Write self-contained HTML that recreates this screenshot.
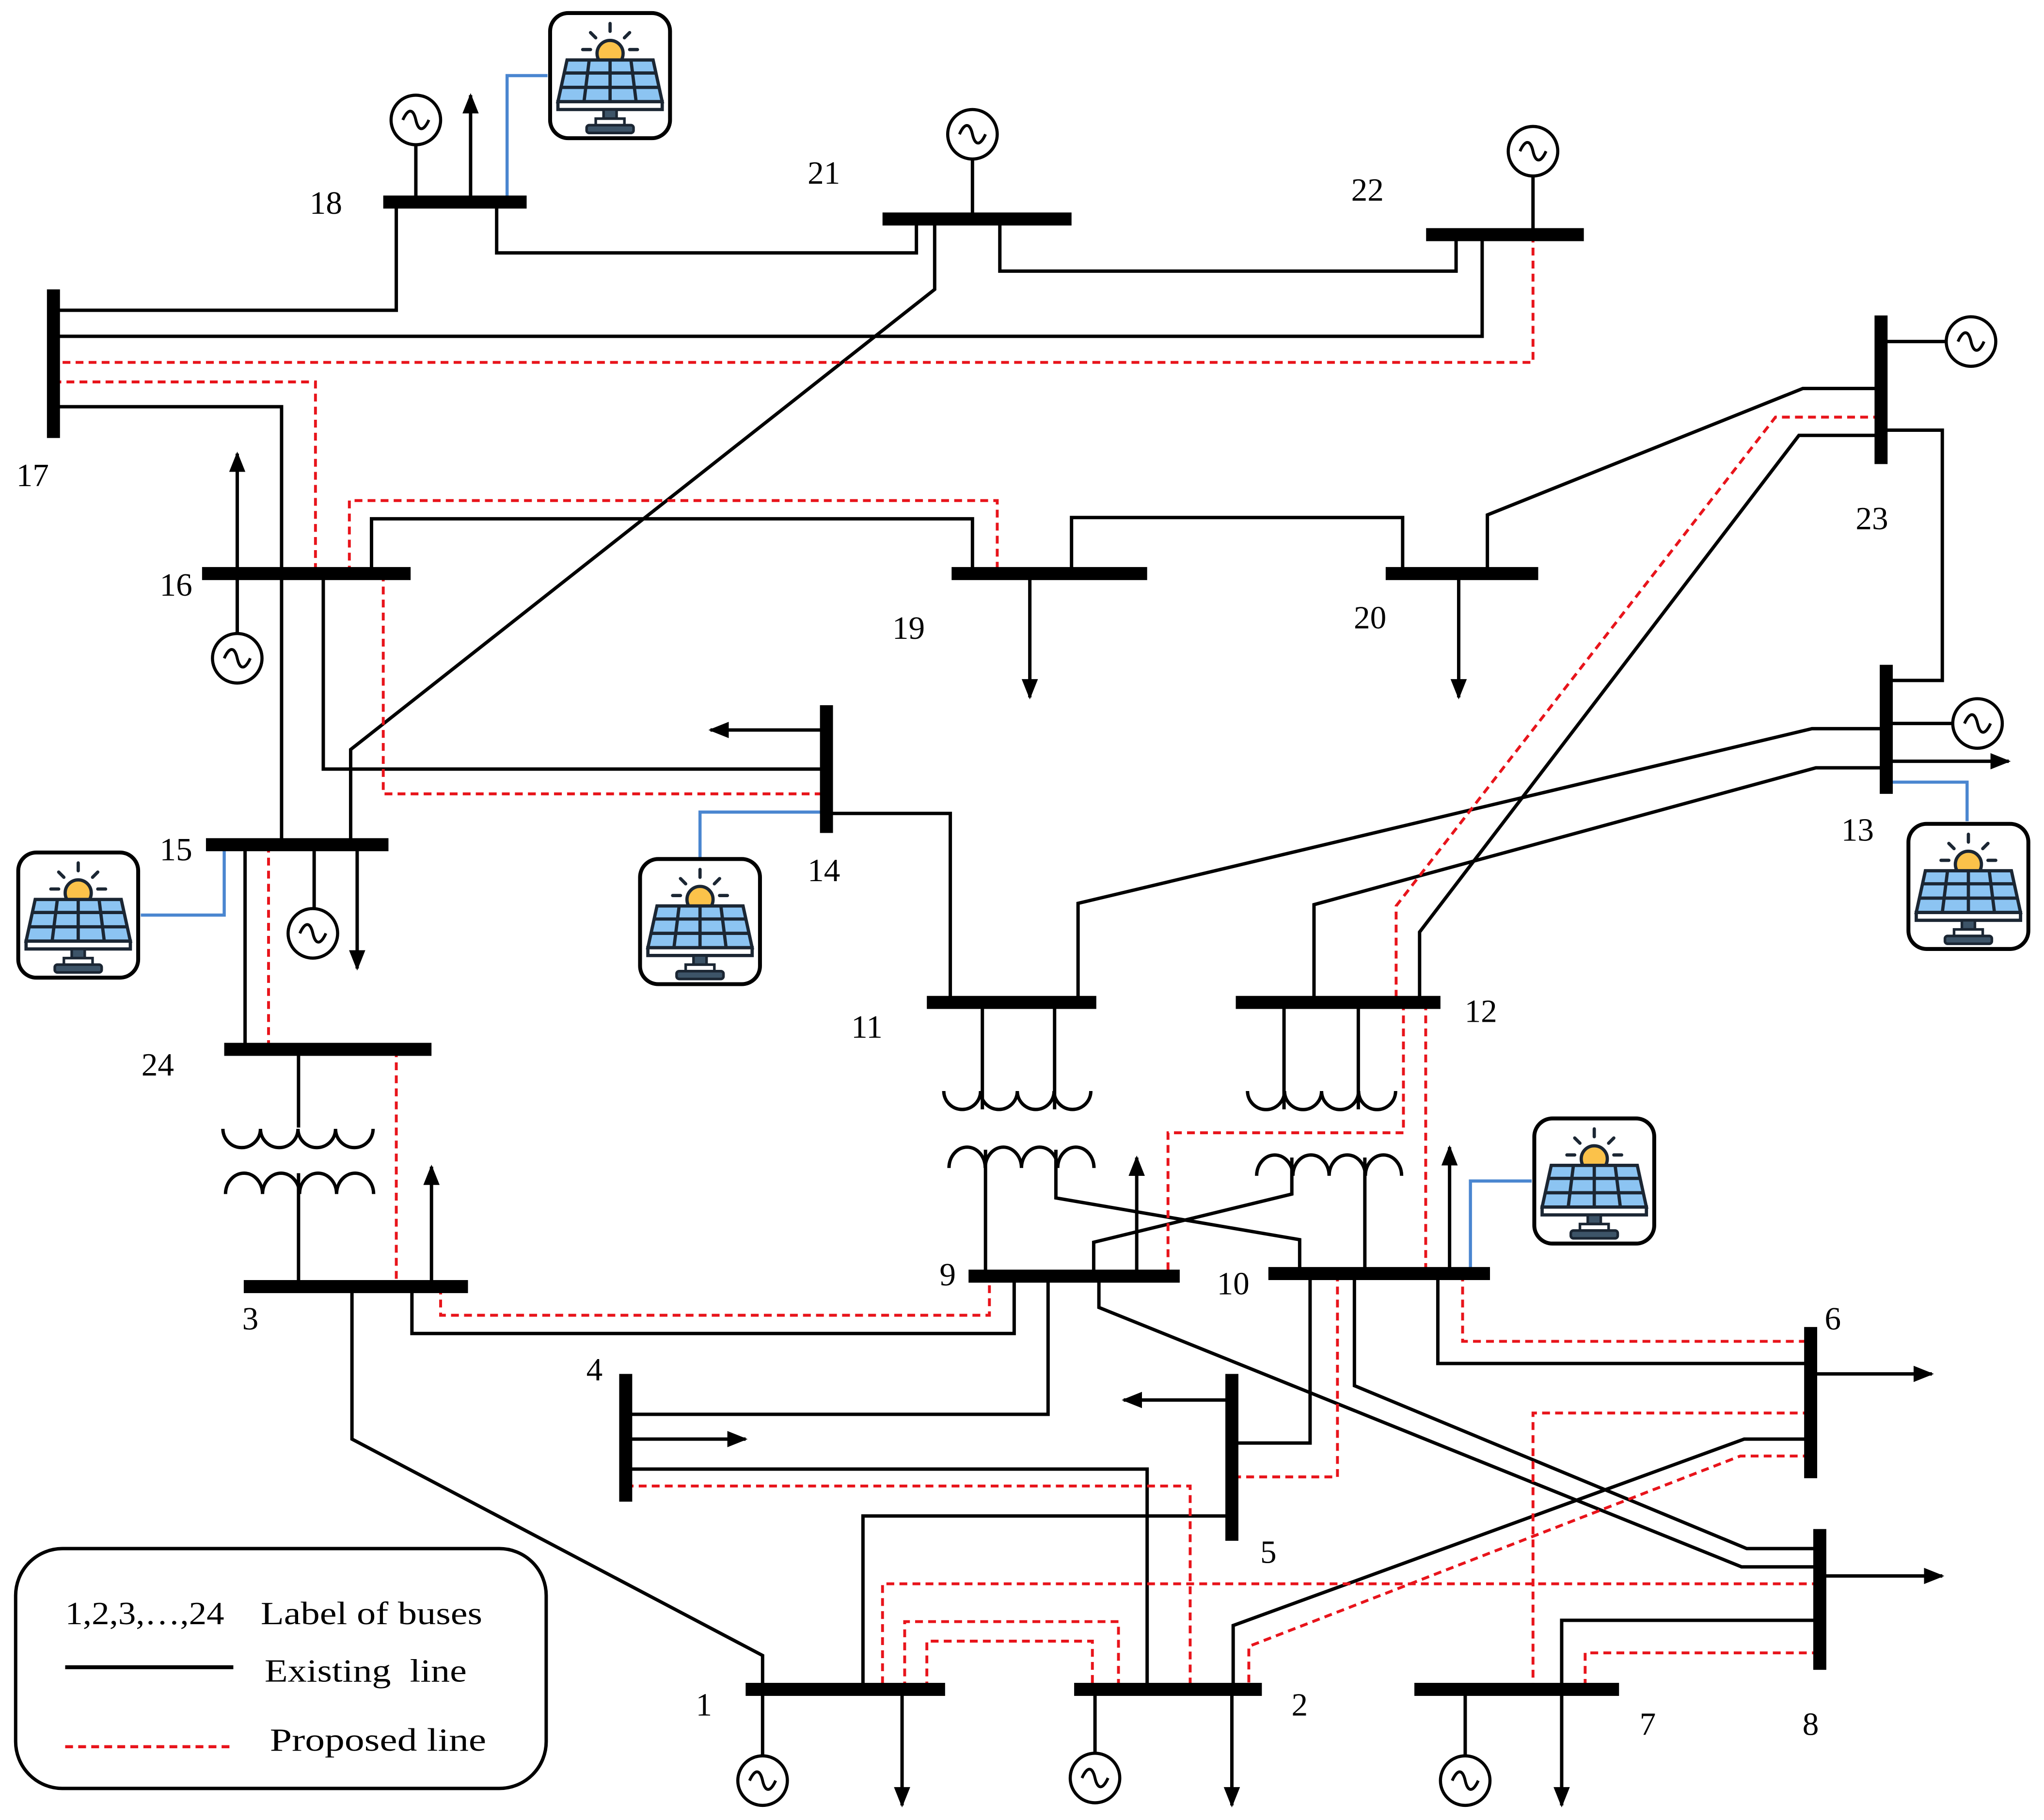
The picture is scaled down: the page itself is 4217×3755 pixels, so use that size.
<!DOCTYPE html>
<html><head><meta charset="utf-8"><style>html,body{margin:0;padding:0;background:#fff}svg{display:block}</style></head>
<body>
<svg xmlns="http://www.w3.org/2000/svg" xmlns:xlink="http://www.w3.org/1999/xlink" width="4217" height="3755" viewBox="0 0 1568 1396.2">
<defs>
<marker id="ar" viewBox="0 0 10 10" refX="9" refY="5" markerWidth="6" markerHeight="6" markerUnits="strokeWidth" orient="auto"><path d="M0,1 L10,5 L0,9 z" fill="#000"/></marker>
<g id="pv">
<rect x="2" y="2" width="92" height="96" rx="14" fill="#fff" stroke="#000" stroke-width="3"/>
<g stroke="#1b2633" stroke-width="2.5" stroke-linecap="round">
<line x1="48" y1="10" x2="48" y2="16"/><line x1="33" y1="17" x2="37" y2="21"/><line x1="63" y1="17" x2="59" y2="21"/><line x1="27" y1="30" x2="33" y2="30"/><line x1="63" y1="30" x2="69" y2="30"/>
</g>
<circle cx="48" cy="33" r="10" fill="#fbc24a" stroke="#1b2633" stroke-width="2.5"/>
<path d="M15,38 L81,38 L88,70 L8,70 Z" fill="#8cc4f2" stroke="#1b2633" stroke-width="2.5"/>
<path d="M8,70 L88,70 L88,76 L8,76 Z" fill="#fff" stroke="#1b2633" stroke-width="2.5"/>
<g stroke="#1b2633" stroke-width="2.5"><line x1="12" y1="48" x2="84" y2="48"/><line x1="10" y1="59" x2="86" y2="59"/><line x1="32" y1="38" x2="28" y2="70"/><line x1="48" y1="38" x2="48" y2="70"/><line x1="64" y1="38" x2="68" y2="70"/></g>
<rect x="43" y="76" width="10" height="7" fill="#3d5468" stroke="#1b2633" stroke-width="2"/>
<rect x="37" y="83" width="22" height="5" fill="#fff" stroke="#1b2633" stroke-width="2"/>
<rect x="30" y="88" width="36" height="6" rx="2" fill="#3d5468" stroke="#1b2633" stroke-width="2"/>
</g>
</defs>
<rect width="1568" height="1396.2" fill="#fff"/>

<g fill="none" stroke="#000" stroke-width="2.6" stroke-linejoin="miter">
<polyline points="304,155 304,238 41,238"/>
<polyline points="381,155 381,194 703,194 703,168"/>
<polyline points="767,168 767,208 1117,208 1117,180"/>
<polyline points="1137,180 1137,258 41,258"/>
<polyline points="41,312 216,312 216,648"/>
<polyline points="717,168 717,222 269,575 269,648"/>
<polyline points="285,440 285,398 746,398 746,440"/>
<polyline points="822,440 822,397 1076,397 1076,440"/>
<polyline points="1141,440 1141,395 1383,298 1443,298"/>
<polyline points="1443,334 1380,334 1089,715 1089,769"/>
<polyline points="1443,330 1490,330 1490,522 1447,522"/>
<polyline points="248,440 248,590 634,590"/>
<polyline points="634,624 729,624 729,769"/>
<polyline points="1447,559 1390,559 827,693 827,769"/>
<polyline points="1447,589 1393,589 1008,694 1008,769"/>
<polyline points="188,648 188,805"/>
<polyline points="241,648 241,697"/>
<polyline points="316,987 316,1023 778,1023 778,979"/>
<polyline points="270,987 270,1104 585,1270 585,1296"/>
<polyline points="804,979 804,1085 480,1085"/>
<polyline points="843,979 843,1003 1336,1202 1396,1202"/>
<polyline points="1005,977 1005,1107 945,1107"/>
<polyline points="1103,977 1103,1046 1389,1046"/>
<polyline points="1039,977 1039,1063 1340,1188 1396,1188"/>
<polyline points="945,1163 662,1163 662,1296"/>
<polyline points="480,1127 880,1127 880,1296"/>
<polyline points="1389,1104 1338,1104 946,1247 946,1296"/>
<polyline points="1396,1243 1198,1243 1198,1296"/>
<polyline points="229,805 229,865"/><polyline points="229,900 229,987"/>
<polyline points="753.6,769 753.6,851"/><polyline points="809,769 809,851"/>
<polyline points="756,882 756,979"/><polyline points="810,882 810,919 997,951 997,977"/>
<polyline points="985,769 985,851"/><polyline points="1042,769 1042,851"/>
<polyline points="991,888 991,916 839,953 839,979"/><polyline points="1047,888 1047,977"/>
<path d="M724,837 a14.1 14.1 0 0 0 28.2 0 a14.1 14.1 0 0 0 28.2 0 a14.1 14.1 0 0 0 28.2 0 a14.1 14.1 0 0 0 28.2 0"/>
<path d="M728,896 a13.9 16 0 0 1 27.8 0 a13.9 16 0 0 1 27.8 0 a13.9 16 0 0 1 27.8 0 a13.9 16 0 0 1 27.8 0"/>
<path d="M957,837 a14.2 14.2 0 0 0 28.4 0 a14.2 14.2 0 0 0 28.4 0 a14.2 14.2 0 0 0 28.4 0 a14.2 14.2 0 0 0 28.4 0"/>
<path d="M964,902 a13.9 16 0 0 1 27.8 0 a13.9 16 0 0 1 27.8 0 a13.9 16 0 0 1 27.8 0 a13.9 16 0 0 1 27.8 0"/>
<path d="M171,866 a14.4 14.4 0 0 0 28.8 0 a14.4 14.4 0 0 0 28.8 0 a14.4 14.4 0 0 0 28.8 0 a14.4 14.4 0 0 0 28.8 0"/>
<path d="M173,916 a14.2 16 0 0 1 28.4 0 a14.2 16 0 0 1 28.4 0 a14.2 16 0 0 1 28.4 0 a14.2 16 0 0 1 28.4 0"/>
<line x1="319" y1="155" x2="319" y2="111"/>
<line x1="746" y1="168" x2="746" y2="122"/>
<line x1="1176" y1="180" x2="1176" y2="135"/>
<line x1="1443" y1="262" x2="1493" y2="262"/>
<line x1="1447" y1="555" x2="1498" y2="555"/>
<line x1="182" y1="440" x2="182" y2="486"/>
<line x1="585" y1="1296" x2="585" y2="1347"/>
<line x1="840" y1="1296" x2="840" y2="1345"/>
<line x1="1124" y1="1296" x2="1124" y2="1347"/>
</g>
<g fill="none" stroke="#000" stroke-width="2.6" marker-end="url(#ar)">
<line x1="361" y1="155" x2="361" y2="73"/>
<line x1="182" y1="440" x2="182" y2="348"/>
<line x1="274" y1="648" x2="274" y2="743"/>
<line x1="331" y1="987" x2="331" y2="895"/>
<line x1="790" y1="440" x2="790" y2="535"/>
<line x1="1119" y1="440" x2="1119" y2="535"/>
<line x1="634" y1="560" x2="545" y2="560"/>
<line x1="1447" y1="584" x2="1541" y2="584"/>
<line x1="872" y1="979" x2="872" y2="888"/>
<line x1="1112" y1="977" x2="1112" y2="880"/>
<line x1="480" y1="1104" x2="572" y2="1104"/>
<line x1="945" y1="1074" x2="862" y2="1074"/>
<line x1="1389" y1="1054" x2="1482" y2="1054"/>
<line x1="1396" y1="1209" x2="1490" y2="1209"/>
<line x1="692" y1="1296" x2="692" y2="1385"/>
<line x1="945" y1="1296" x2="945" y2="1385"/>
<line x1="1198" y1="1296" x2="1198" y2="1385"/>
</g>
<g fill="#fff" stroke="#000" stroke-width="2.4">
<circle cx="319" cy="92" r="19"/><circle cx="746" cy="103" r="19"/><circle cx="1176" cy="116" r="19"/>
<circle cx="1512" cy="262" r="19"/><circle cx="1517" cy="555" r="19"/><circle cx="182" cy="505" r="19"/>
<circle cx="240" cy="716" r="19"/><circle cx="585" cy="1366" r="19"/><circle cx="840" cy="1364" r="19"/><circle cx="1124" cy="1366" r="19"/>
</g>
<g fill="none" stroke="#000" stroke-width="2.2">
<path d="M-10,0 C-6,-9 -2,-9 0,0 C2,9 6,9 10,0" transform="translate(319,92)"/>
<path d="M-10,0 C-6,-9 -2,-9 0,0 C2,9 6,9 10,0" transform="translate(746,103)"/>
<path d="M-10,0 C-6,-9 -2,-9 0,0 C2,9 6,9 10,0" transform="translate(1176,116)"/>
<path d="M-10,0 C-6,-9 -2,-9 0,0 C2,9 6,9 10,0" transform="translate(1512,262)"/>
<path d="M-10,0 C-6,-9 -2,-9 0,0 C2,9 6,9 10,0" transform="translate(1517,555)"/>
<path d="M-10,0 C-6,-9 -2,-9 0,0 C2,9 6,9 10,0" transform="translate(182,505)"/>
<path d="M-10,0 C-6,-9 -2,-9 0,0 C2,9 6,9 10,0" transform="translate(240,716)"/>
<path d="M-10,0 C-6,-9 -2,-9 0,0 C2,9 6,9 10,0" transform="translate(585,1366)"/>
<path d="M-10,0 C-6,-9 -2,-9 0,0 C2,9 6,9 10,0" transform="translate(840,1364)"/>
<path d="M-10,0 C-6,-9 -2,-9 0,0 C2,9 6,9 10,0" transform="translate(1124,1366)"/>
</g>
<g fill="none" stroke="#e8141b" stroke-width="2.2" stroke-dasharray="6,4">
<polyline points="1176,180 1176,278 41,278"/>
<polyline points="41,293 242,293 242,440"/>
<polyline points="268,440 268,384 765,384 765,440"/>
<polyline points="294,440 294,609 634,609"/>
<polyline points="206,648 206,805"/>
<polyline points="304,805 304,987"/>
<polyline points="338,987 338,1009 759,1009 759,979"/>
<polyline points="1443,320 1362,320 1071,695 1071,769"/>
<polyline points="1076.6,769 1076.6,869 896,869 896,979"/>
<polyline points="1093.7,769 1093.7,977"/>
<polyline points="1122,977 1122,1029 1389,1029"/>
<polyline points="1026,977 1026,1133 945,1133"/>
<polyline points="480,1140 913,1140 913,1296"/>
<polyline points="1389,1084 1176,1084 1176,1296"/>
<polyline points="1389,1117 1335,1117 958,1263 958,1296"/>
<polyline points="1396,1215 677,1215 677,1296"/>
<polyline points="1396,1268 1216,1268 1216,1296"/>
<polyline points="694,1296 694,1244 858,1244 858,1296"/>
<polyline points="711,1296 711,1259 838,1259 838,1296"/>
</g>
<g fill="none" stroke="#4a86d0" stroke-width="2.4">
<polyline points="389,155 389,58 420,58"/>
<polyline points="172,648 172,702 108,702"/>
<polyline points="634,623 537,623 537,660"/>
<polyline points="1447,600 1509,600 1509,630"/>
<polyline points="1128,977 1128,906 1175,906"/>
</g>
<g fill="#000">
<rect x="294" y="150" width="110" height="10"/>
<rect x="677" y="163" width="145" height="10"/>
<rect x="1094" y="175" width="121" height="10"/>
<rect x="36" y="222" width="10" height="114"/>
<rect x="1438" y="242" width="10" height="114"/>
<rect x="155" y="435" width="160" height="10"/>
<rect x="730" y="435" width="150" height="10"/>
<rect x="1063" y="435" width="117" height="10"/>
<rect x="629" y="541" width="10" height="98"/>
<rect x="1442" y="510" width="10" height="99"/>
<rect x="158" y="643" width="140" height="10"/>
<rect x="172" y="800" width="159" height="10"/>
<rect x="711" y="764" width="130" height="10"/>
<rect x="948" y="764" width="157" height="10"/>
<rect x="187" y="982" width="172" height="10"/>
<rect x="743" y="974" width="162" height="10"/>
<rect x="973" y="972" width="170" height="10"/>
<rect x="475" y="1054" width="10" height="98"/>
<rect x="940" y="1054" width="10" height="128"/>
<rect x="1384" y="1018" width="10" height="116"/>
<rect x="1391" y="1173" width="10" height="108"/>
<rect x="572" y="1291" width="153" height="10"/>
<rect x="824" y="1291" width="144" height="10"/>
<rect x="1085" y="1291" width="157" height="10"/>
</g>
<use xlink:href="#pv" href="#pv" transform="translate(420,8)"/>
<use xlink:href="#pv" href="#pv" transform="translate(12,652)"/>
<use xlink:href="#pv" href="#pv" transform="translate(489,657)"/>
<use xlink:href="#pv" href="#pv" transform="translate(1462,630)"/>
<use xlink:href="#pv" href="#pv" transform="translate(1175,856)"/>
<g font-family="Liberation Serif, serif" font-size="25" fill="#000" text-anchor="middle">
<text x="250" y="164">18</text><text x="632" y="141">21</text><text x="1049" y="154">22</text>
<text x="25" y="373">17</text><text x="1436" y="406">23</text><text x="135" y="457">16</text>
<text x="697" y="490">19</text><text x="1051" y="482">20</text><text x="632" y="676">14</text>
<text x="1425" y="645">13</text><text x="135" y="660">15</text><text x="121" y="825">24</text>
<text x="665" y="796">11</text><text x="1136" y="784">12</text><text x="192" y="1020">3</text>
<text x="727" y="986">9</text><text x="946" y="993">10</text><text x="456" y="1059">4</text>
<text x="973" y="1199">5</text><text x="1406" y="1020">6</text><text x="1389" y="1331">8</text>
<text x="540" y="1316">1</text><text x="997" y="1316">2</text><text x="1264" y="1331">7</text>
</g>
<rect x="12" y="1188" width="407" height="184" rx="36" fill="none" stroke="#000" stroke-width="2.6"/>
<g font-family="Liberation Serif, serif" font-size="25" fill="#000">
<text x="50" y="1246" textLength="122" lengthAdjust="spacingAndGlyphs">1,2,3,…,24</text>
<text x="200" y="1246" textLength="170" lengthAdjust="spacingAndGlyphs">Label of buses</text>
<text x="203" y="1290" textLength="155" lengthAdjust="spacingAndGlyphs">Existing&#160; line</text>
<text x="207" y="1343" textLength="166" lengthAdjust="spacingAndGlyphs">Proposed line</text>
</g>
<line x1="50" y1="1279" x2="179" y2="1279" stroke="#000" stroke-width="3"/>
<line x1="50" y1="1340" x2="179" y2="1340" stroke="#e8141b" stroke-width="2.4" stroke-dasharray="6,4"/>
</svg>
</body></html>
